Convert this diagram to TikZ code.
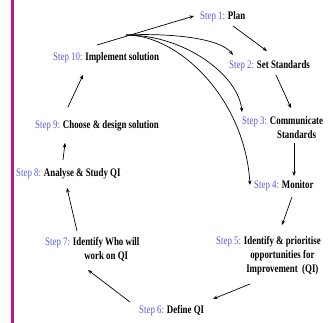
\documentclass[tikz,border=0pt]{standalone}
\usepackage{fontspec}
\setmainfont[FakeStretch=0.77]{Liberation Serif}
\usetikzlibrary{arrows.meta,calc}
\definecolor{stepblue}{RGB}{88,88,228}
\definecolor{barcol}{RGB}{180,25,160}
\newcommand\steplbl[1]{{\mdseries\color{stepblue}Step #1:}}
\begin{document}
\begin{tikzpicture}[x=1pt,y=-1pt,
  lbl/.style={anchor=base west,inner sep=0pt,font=\fontsize{11.5}{14}\selectfont\bfseries},
  arr/.style={-{Stealth[length=4.5pt,width=3.5pt]},line width=0.7pt}]
\useasboundingbox (0,0) rectangle (335,323);
\draw[barcol,line width=2.5pt] (12.5,0) -- (12.5,323);

\node[lbl] (s1) at (200,20) {\steplbl{1} Plan};
\node[lbl] (s2) at (229,69) {\steplbl{2} Set Standards};
\node[lbl] (s3) at (242,125) {\steplbl{3} \begin{tabular}[t]{@{}c@{}}Communicate\\Standards\end{tabular}};
\node[lbl] (s4) at (254,189) {\steplbl{4} Monitor};
\node[lbl] (s5) at (216,245) {\steplbl{5} \begin{tabular}[t]{@{}c@{}}Identify \& prioritise\\opportunities for\\Improvement\ \ (QI)\end{tabular}};
\node[lbl] (s6) at (139,314) {\steplbl{6} Define QI};
\node[lbl] (s7) at (45,246) {\steplbl{7} \begin{tabular}[t]{@{}c@{}}Identify Who will\\work on QI\end{tabular}};
\node[lbl] (s8) at (16,177) {\steplbl{8} Analyse \& Study QI};
\node[lbl] (s9) at (35,129) {\steplbl{9} Choose \& design solution};
\node[lbl] (s10) at (53,61) {\steplbl{10} Implement solution};

\draw[arr] ($(s10.base west)+(44,-16)$) -- ($(s1.base west)+(-6,-4)$);
\draw[arr] ($(s1.base west)+(33,6)$) -- ($(s2.base west)+(38,-18)$);
\draw[arr] ($(s2.base west)+(47,6)$) -- ($(s3.base west)+(49,-17)$);
\draw[arr] ($(s3.base west)+(52,18)$) -- ($(s4.base west)+(40,-13)$);
\draw[arr] ($(s4.base west)+(38,8)$) -- ($(s5.base west)+(66,-20)$);
\draw[arr] ($(s5.base west)+(34,39)$) -- ($(s6.base west)+(74,-15)$);
\draw[arr] ($(s6.base west)+(-9,-12)$) -- ($(s7.base west)+(43,24)$);
\draw[arr] ($(s7.base west)+(32,-15)$) -- ($(s8.base west)+(51,11)$);
\draw[arr] ($(s8.base west)+(47,-17)$) -- ($(s9.base west)+(30,14)$);
\draw[arr] ($(s9.base west)+(33,-22)$) -- ($(s10.base west)+(30,14)$);

\coordinate (hub) at ($(s10.base west)+(73,-26)$);
\draw[arr] (hub) .. controls (170,33) and (220,38) .. ($(s2.base west)+(4,-14)$);
\draw[arr] (hub) .. controls (185,35) and (238,75) .. ($(s3.base west)+(0,-13)$);
\draw[arr] (hub) .. controls (180,35) and (245,100) .. ($(s4.base west)+(-4,-4)$);
\end{tikzpicture}
\end{document}
